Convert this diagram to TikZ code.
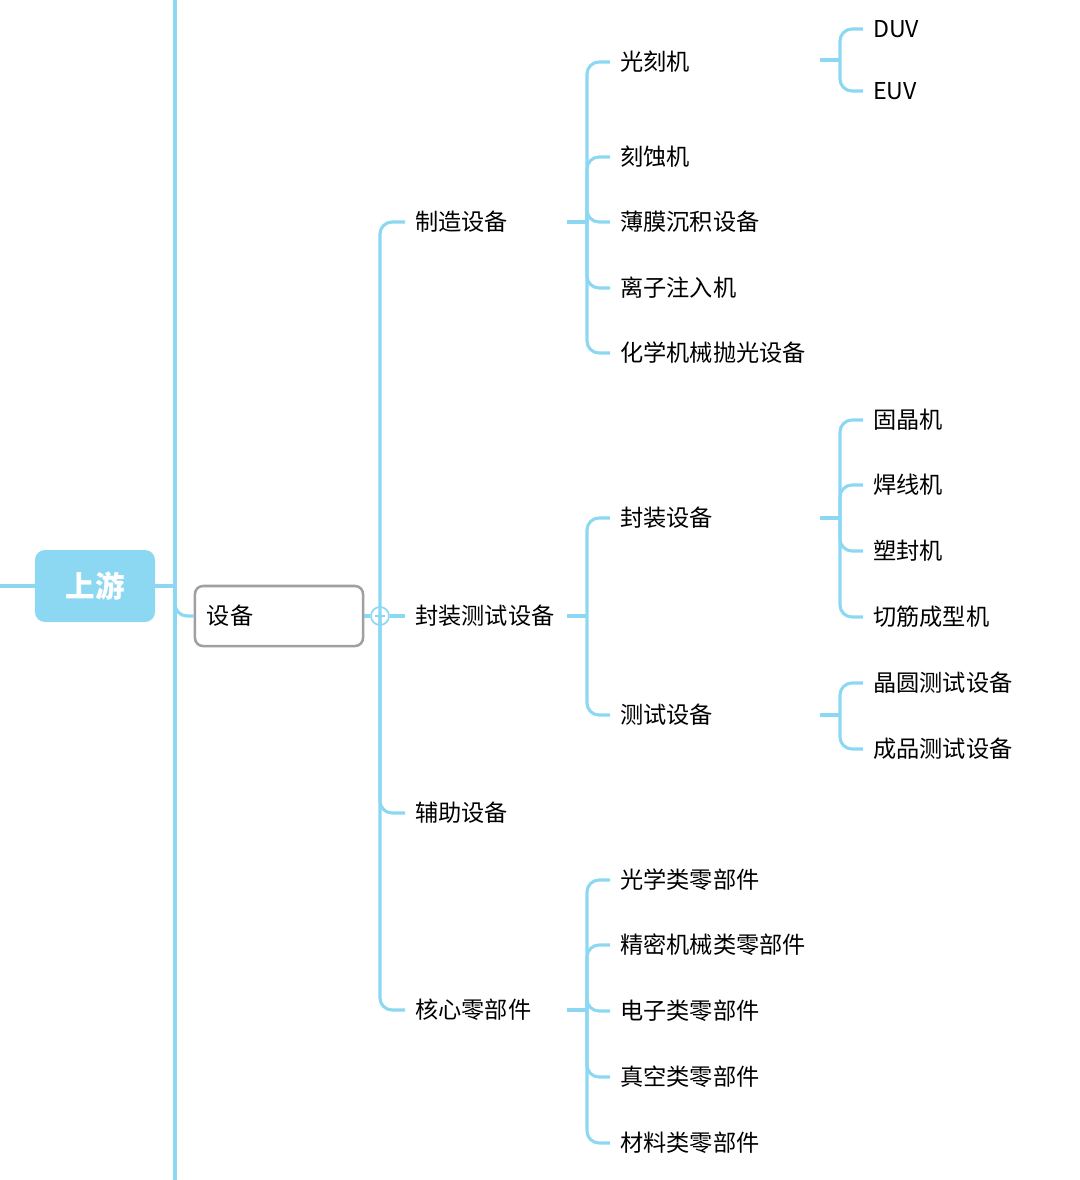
\documentclass[tikz,border=0pt]{standalone}
\usepackage{fontspec}
\setmainfont{Noto Sans CJK SC}
\usetikzlibrary{positioning}
\definecolor{linkblue}{RGB}{140,216,242}
\definecolor{boxgray}{RGB}{160,160,160}
\tikzset{
  link/.style={draw=linkblue,line width=2.2pt,rounded corners=0.3cm},
  item/.style={anchor=west,inner xsep=0.25cm,inner ysep=0pt,font=\fontsize{16.5}{20}\selectfont},
}
\begin{document}
\begin{tikzpicture}[x=0.025cm,y=-0.025cm]
\useasboundingbox (0,0) rectangle (1080,1180);

% root
\draw[link] (175,0) -- (175,1180);
\node[fill=linkblue,rounded corners=0.25cm,minimum width=3cm,minimum height=1.8cm,
  text=white,font=\fontsize{21}{24}\selectfont\bfseries] (sy) at (95,586) {上游};
\coordinate (sl) at (0,586);
\draw[link] (sl) -- (sy.west);
\draw[link] (sy.east) -- (175,586);

\node[draw=boxgray,line width=1.8pt,rounded corners=0.2cm,minimum width=4.2cm,minimum height=1.5cm,
  text width=3.6cm,font=\fontsize{16.5}{20}\selectfont] (sb) at (279,616) {设备};
\draw[link] (175,590) |- (sb.west);

% collapse mark
\node[circle,draw=linkblue,fill=white,line width=1.2pt,minimum size=0.45cm,inner sep=0pt] (fold) at (380,616) {};
\draw[link] (sb.east) -- (fold.west);
\draw[linkblue,line width=1pt] ([xshift=-0.13cm]fold.center) -- ([xshift=0.13cm]fold.center);

% level 1
\node[item] (zz) at (405,222) {制造设备};
\node[item] (fz) at (405,616) {封装测试设备};
\node[item] (fu) at (405,813) {辅助设备};
\node[item] (hx) at (405,1010) {核心零部件};
\foreach \c in {zz,fu,hx} \draw[link] (fold.center) |- (\c.west);
\draw[link] (fold.east) -- (fz.west);

% level 2
\node[item] (gk) at (610,62) {光刻机};
\node[item] (ks) at (610,157) {刻蚀机};
\node[item] (bm) at (610,222) {薄膜沉积设备};
\node[item] (lz) at (610,288) {离子注入机};
\node[item] (hm) at (610,353) {化学机械抛光设备};
\coordinate (zzj) at (567,222);
\draw[link] (zzj) -- (587,222);
\foreach \c in {gk,ks,bm,lz,hm} \draw[link] (587,222) |- (\c.west);

\node[item] (fs) at (610,518) {封装设备};
\node[item] (cs) at (610,715) {测试设备};
\coordinate (fzj) at (567,616);
\draw[link] (fzj) -- (587,616);
\foreach \c in {fs,cs} \draw[link] (587,616) |- (\c.west);

\node[item] (gx) at (610,880) {光学类零部件};
\node[item] (jm) at (610,945) {精密机械类零部件};
\node[item] (dz) at (610,1011) {电子类零部件};
\node[item] (zk) at (610,1077) {真空类零部件};
\node[item] (cl) at (610,1143) {材料类零部件};
\coordinate (hxj) at (567,1010);
\draw[link] (hxj) -- (587,1010);
\foreach \c in {gx,jm,dz,zk,cl} \draw[link] (587,1010) |- (\c.west);

% level 3
\node[item] (duv) at (863,29) {DUV};
\node[item] (euv) at (863,91) {EUV};
\coordinate (gkj) at (820,60);
\draw[link] (gkj) -- (840,60);
\foreach \c in {duv,euv} \draw[link] (840,60) |- (\c.west);

\node[item] (gj) at (863,420) {固晶机};
\node[item] (hj) at (863,485) {焊线机};
\node[item] (sf) at (863,551) {塑封机};
\node[item] (qj) at (863,617) {切筋成型机};
\coordinate (fsj) at (820,518);
\draw[link] (fsj) -- (840,518);
\foreach \c in {gj,hj,sf,qj} \draw[link] (840,518) |- (\c.west);

\node[item] (jy) at (863,683) {晶圆测试设备};
\node[item] (cp) at (863,749) {成品测试设备};
\coordinate (csj) at (820,715);
\draw[link] (csj) -- (840,715);
\foreach \c in {jy,cp} \draw[link] (840,715) |- (\c.west);
\end{tikzpicture}
\end{document}
